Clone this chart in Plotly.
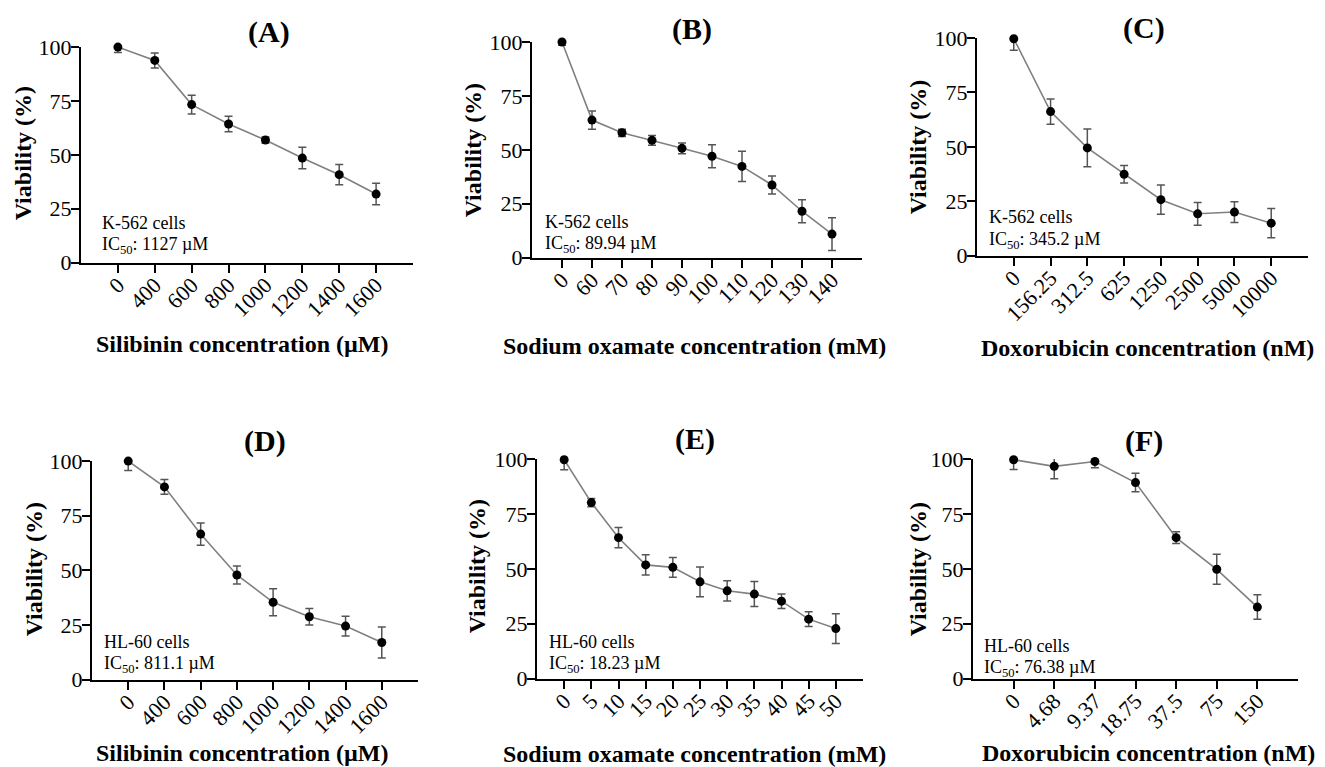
import plotly.graph_objects as go

W, H = 1325, 767

# ---------------- data ----------------
A_x = ["0", "400", "600", "800", "1000", "1200", "1400", "1600"]
A_y = [100, 93.8, 73.3, 64.3, 56.9, 48.5, 40.8, 31.8]
A_e = [2.5, 3.5, 4.4, 3.6, 1.4, 5.0, 4.7, 5.0]

B_x = ["0", "60", "70", "80", "90", "100", "110", "120", "130", "140"]
B_y = [100, 63.8, 57.9, 54.4, 50.7, 47.0, 42.3, 33.7, 21.5, 10.9]
B_e = [1.5, 4.2, 1.7, 2.3, 2.5, 5.3, 7.0, 4.2, 5.3, 7.6]

C_x = ["0", "156.25", "312.5", "625", "1250", "2500", "5000", "10000"]
C_y = [99.7, 66.2, 49.5, 37.4, 25.7, 19.2, 20.0, 14.9]
C_e = [5.3, 5.8, 8.7, 4.0, 6.7, 5.2, 4.8, 6.7]

D_x = ["0", "400", "600", "800", "1000", "1200", "1400", "1600"]
D_y = [100, 88.2, 66.6, 47.9, 35.4, 28.8, 24.5, 17.0]
D_e = [4.3, 3.4, 5.1, 4.1, 6.2, 3.8, 4.5, 7.1]

E_x = ["0", "5", "10", "15", "20", "25", "30", "35", "40", "45", "50"]
E_y = [99.7, 80.2, 64.2, 51.8, 50.7, 44.1, 40.0, 38.5, 35.3, 27.1, 22.8]
E_e = [4.6, 1.9, 4.6, 4.6, 4.5, 6.8, 4.6, 5.7, 3.3, 3.4, 6.8]

F_x = ["0", "4.68", "9.37", "18.75", "37.5", "75", "150"]
F_y = [99.7, 96.7, 98.9, 89.3, 64.2, 49.8, 32.6]
F_e = [4.4, 5.6, 2.8, 4.2, 2.7, 6.8, 5.6]

panel_letters = ["(A)", "(B)", "(C)", "(D)", "(E)", "(F)"]
x_titles = ["Silibinin concentration (µM)", "Sodium oxamate concentration (mM)",
            "Doxorubicin concentration (nM)", "Silibinin concentration (µM)",
            "Sodium oxamate concentration (mM)", "Doxorubicin concentration (nM)"]
y_title = "Viability (%)"
cell_lines = ["K-562 cells", "K-562 cells", "K-562 cells",
              "HL-60 cells", "HL-60 cells", "HL-60 cells"]
ic50_text = ["1127 µM", "89.94 µM", "345.2 µM", "811.1 µM", "18.23 µM", "76.38 µM"]
y_ticks = [0, 25, 50, 75, 100]

series = [(A_x, A_y, A_e), (B_x, B_y, B_e), (C_x, C_y, C_e),
          (D_x, D_y, D_e), (E_x, E_y, E_e), (F_x, F_y, F_e)]

# ---------------- layout geometry (target pixels in the picture) ----------------
boxes = [(81, 413, 47, 262), (532, 862, 42, 257), (977, 1308, 38, 255),
         (92, 418, 460, 678), (537, 863, 458, 677), (973, 1298, 458, 677)]
title_pos = [(269, 32), (692, 29), (1144, 28), (265, 440), (695, 438), (1144, 440)]
ylab_pos = [(23, 153), (473, 150), (918, 147), (34, 568), (477, 565), (918, 568)]
xlab_pos = [(242, 343), (695, 345), (1147, 347), (242, 751), (695, 752), (1148, 751)]
note_pos = [(100, 222), (543, 221), (987, 217), (102, 640), (547, 640), (982, 644)]
NOTE_GAP = 23

FONT = "Liberation Serif"

# page offset / scale observed in the viewer
OX, OY, SY = 8.0, 20.0, 0.965

def px(x):
    return (x - OX) / W

def py(y):
    return 1 - ((y - OY) / SY) / H

fig = go.Figure()
annotations = []
layout = dict(width=W, height=H, margin=dict(l=0, r=0, t=0, b=0),
              plot_bgcolor="white", paper_bgcolor="white", showlegend=False,
              font=dict(family=FONT, color="black"))

def add_text(x, y, text, size, bold=False, angle=0, xanchor="center"):
    annotations.append(dict(x=px(x), y=py(y), xref="paper", yref="paper",
                            text=text, showarrow=False, textangle=angle,
                            font=dict(family=FONT, size=size, color="black",
                                      weight="bold" if bold else "normal"),
                            xanchor=xanchor, yanchor="middle"))

for i, ((xs, ys, es), (x0, x1, y0, y1)) in enumerate(zip(series, boxes)):
    k = i + 1
    xa = "x" if k == 1 else f"x{k}"
    ya = "y" if k == 1 else f"y{k}"
    fig.add_trace(go.Scatter(
        x=xs, y=ys, xaxis=xa, yaxis=ya, mode="lines+markers",
        line=dict(color="#808080", width=1.6),
        marker=dict(color="black", size=9),
        error_y=dict(type="data", array=es, visible=True, color="#555555",
                     thickness=1.5, width=4),
        cliponaxis=False))
    n = len(xs)
    layout["xaxis" if k == 1 else f"xaxis{k}"] = dict(
        domain=[px(x0), px(x1)], anchor=ya, type="category",
        range=[-1, n], showline=True, linecolor="black", linewidth=2,
        ticks="outside", ticklen=8, tickwidth=2, tickcolor="black",
        tickangle=-45, ticklabelstandoff=-9, showgrid=False, zeroline=False,
        tickfont=dict(family=FONT, size=22, color="black"))
    layout["yaxis" if k == 1 else f"yaxis{k}"] = dict(
        domain=[py(y1), py(y0)], anchor=xa, range=[0, 100],
        tickvals=y_ticks, showline=True, linecolor="black", linewidth=2,
        ticks="outside", ticklen=8, tickwidth=2, tickcolor="black",
        ticklabelstandoff=-5, showgrid=False, zeroline=False,
        tickfont=dict(family=FONT, size=22, color="black"))

    add_text(*title_pos[i], panel_letters[i], 30, bold=True)
    add_text(*ylab_pos[i], y_title, 24, bold=True, angle=-90)
    add_text(*xlab_pos[i], x_titles[i], 24, bold=True)
    nx, ny = note_pos[i]
    add_text(nx, ny, cell_lines[i], 18, xanchor="left")
    add_text(nx, ny + NOTE_GAP, f"IC<sub>50</sub>: {ic50_text[i]}", 18, xanchor="left")

layout["annotations"] = annotations
fig.update_layout(**layout)
fig.write_html("out.html")
